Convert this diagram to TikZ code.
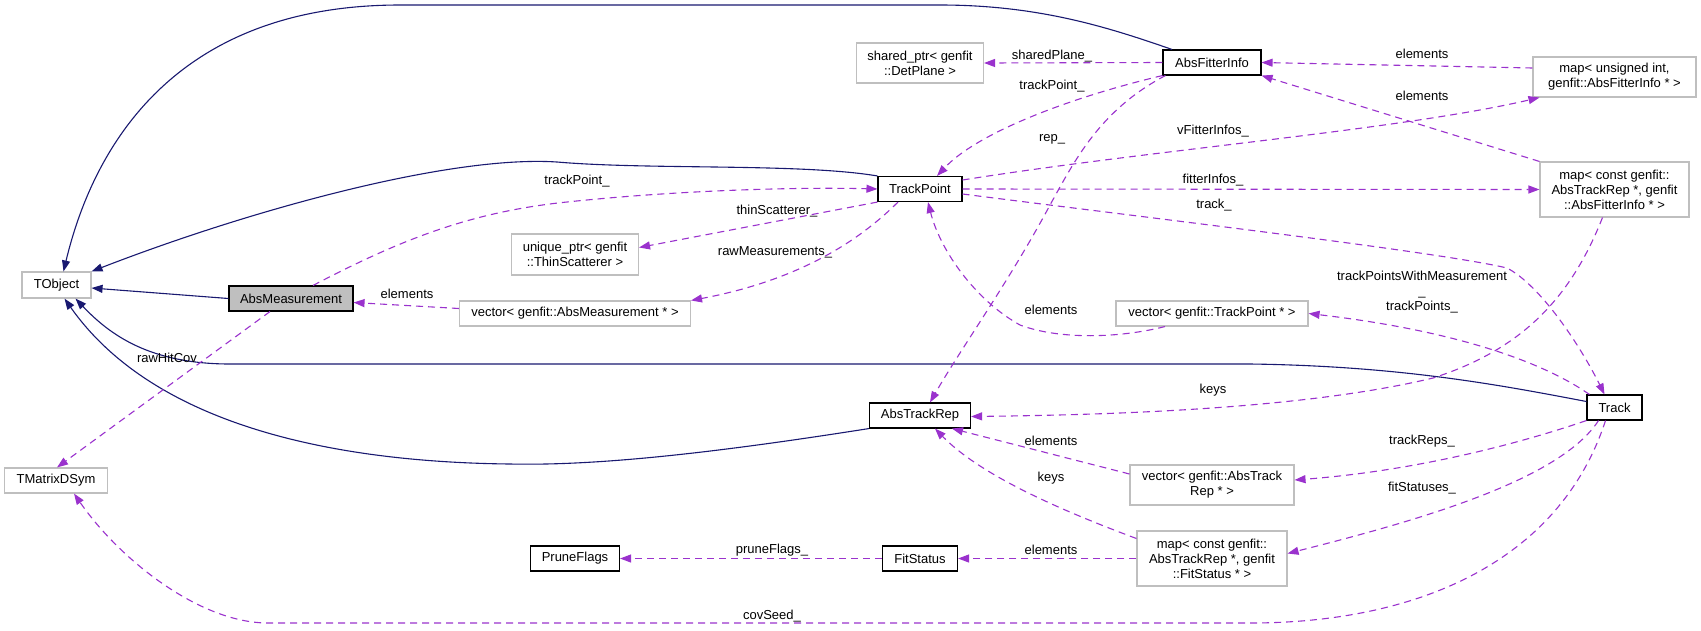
\documentclass[tikz,border=0pt]{standalone}
\usepackage{fontspec}
\setmainfont{Liberation Sans}
\usetikzlibrary{arrows.meta}
\definecolor{inhblue}{HTML}{191970}
\definecolor{usepurple}{HTML}{9A32CD}
\definecolor{boxgray}{HTML}{BFBFBF}

\begin{document}
\begin{tikzpicture}[
		x=1pt, y=-1pt,
		every node/.style={font=\fontsize{13}{15}\selectfont, align=center, inner sep=0pt},
		cls/.style={draw=black, line width=1.1pt, minimum height=25pt},
		ext/.style={draw=boxgray, line width=1.1pt, minimum height=25pt},
		inherit/.style={draw=inhblue, line width=1.1pt, -{Triangle[length=11pt,width=8pt]}},
		member/.style={draw=usepurple, line width=1.1pt, dash pattern=on 7pt off 5pt, -{Triangle[length=11pt,width=8pt]}}
		]
		\useasboundingbox (0,0) rectangle (1701,630);
		
		\node[ext, minimum width=69pt, minimum height=26pt] (tobject) at (56.5,285) {TObject};
		\node[cls, fill=boxgray, minimum width=124pt] (absmeas) at (291,298.5) {AbsMeasurement};
		\node[ext, minimum width=103pt] (tmatrix) at (56,480.5) {TMatrixDSym};
		\node[cls, minimum width=89pt] (prune) at (575,558.5) {PruneFlags};
		\node[ext, minimum width=127pt, minimum height=41pt] (thinscat) at (575,254.5) {unique\_ptr< genfit\\::ThinScatterer >};
		\node[ext, minimum width=231pt] (vecmeas) at (575,313.5) {vector< genfit::AbsMeasurement * >};
		\node[ext, minimum width=127pt, minimum height=40pt] (detplane) at (920,63) {shared\_ptr< genfit\\::DetPlane >};
		\node[cls, minimum width=84pt] (trackpoint) at (920,189) {TrackPoint};
		\node[cls, minimum width=101pt] (absrep) at (920,415.5) {AbsTrackRep};
		\node[cls, minimum width=75pt] (fitstatus) at (920,558.5) {FitStatus};
		\node[cls, minimum width=98pt] (absfit) at (1212,62.5) {AbsFitterInfo};
		\node[ext, minimum width=192pt] (vectp) at (1212,313.5) {vector< genfit::TrackPoint * >};
		\node[ext, minimum width=164pt, minimum height=40pt] (vecrep) at (1212,485) {vector< genfit::AbsTrack\\Rep * >};
		\node[ext, minimum width=150pt, minimum height=55pt] (mapfs) at (1212,558.5) {map< const genfit::\\AbsTrackRep *, genfit\\::FitStatus * >};
		\node[ext, minimum width=163pt, minimum height=40pt] (mapui) at (1614.5,77) {map< unsigned int,\\ genfit::AbsFitterInfo * >};
		\node[ext, minimum width=149pt, minimum height=55pt] (mapfi) at (1614.5,189.5) {map< const genfit::\\AbsTrackRep *, genfit\\::AbsFitterInfo * >};
		\node[cls, minimum width=55pt] (track) at (1614.5,407.5) {Track};
		
		% inheritance
		\draw[inherit] (absmeas.west) -- ([yshift=-3pt]tobject.east);
		\draw[inherit] (trackpoint.north west) .. controls (800,163) and (650,170) .. (557,162) .. controls (450,155) and (250,210) .. (tobject.north east);
		\draw[inherit] ([xshift=-40pt]absfit.north) .. controls (1110,28) and (1040,5) .. (940,5) -- (400,5) .. controls (180,5) and (95,140) .. ([xshift=7pt]tobject.north);
		\draw[inherit] ([yshift=6pt]track.west) .. controls (1500,385) and (1400,366) .. (1250,364) -- (230,364) .. controls (150,364) and (110,335) .. ([xshift=19pt]tobject.south);
		\draw[inherit] (absrep.south west) .. controls (720,452) and (600,466) .. (510,464) .. controls (320,462) and (150,420) .. ([xshift=8pt]tobject.south);
		
		% members
		\draw[member] ([xshift=-21pt]absmeas.south) -- ([xshift=1pt]tmatrix.north);
		\draw[member] ([xshift=22pt]absmeas.north) .. controls (400,240) and (470,212) .. (567,202) .. controls (680,190) and (800,187) .. (trackpoint.west);
		\draw[member] ([yshift=5pt]vecmeas.west) -- ([yshift=-4pt]absmeas.east);
		\draw[member] (trackpoint.south west) -- ([yshift=7pt]thinscat.east);
		\draw[member] ([xshift=-22pt]trackpoint.south) .. controls (860,240) and (800,280) .. (vecmeas.north east);
		\draw[member] (absfit.west) -- (detplane.east);
		\draw[member] (absfit.south west) .. controls (1080,95) and (980,130) .. ([xshift=17pt]trackpoint.north);
		\draw[member] ([xshift=3pt]absfit.south west) .. controls (1100,110) and (1075,160) .. (1050,205) .. controls (1010,280) and (960,350) .. ([xshift=10pt]absrep.north);
		\draw[member] ([yshift=9pt]mapui.west) -- (absfit.east);
		\draw[member] (mapfi.north west) -- (absfit.south east);
		\draw[member] ([yshift=9pt]trackpoint.east) .. controls (1150,150) and (1400,130) .. ([xshift=7pt]mapui.south west);
		\draw[member] (trackpoint.east) -- (mapfi.west);
		\draw[member] ([yshift=-5pt]trackpoint.east) .. controls (1150,218) and (1440,252) .. (1507,268) .. controls (1540,285) and (1580,345) .. ([xshift=-10pt]track.north);
		\draw[member] ([xshift=3pt]track.north west) .. controls (1540,360) and (1450,330) .. (vectp.east);
		\draw[member] ([xshift=-47pt]vectp.south) .. controls (1120,338) and (1060,340) .. (1020,325) .. controls (975,300) and (940,250) .. ([xshift=8pt]trackpoint.south);
		\draw[member] (track.south west) .. controls (1500,450) and (1400,472) .. ([yshift=5pt]vecrep.east);
		\draw[member] ([xshift=-16pt]track.south) .. controls (1560,480) and (1420,520) .. ([yshift=5pt]mapfs.east);
		\draw[member] ([xshift=-9pt]track.south) .. controls (1560,560) and (1420,623) .. (1250,623) -- (268,623) .. controls (200,623) and (120,560) .. ([xshift=18pt]tmatrix.south);
		\draw[member] ([xshift=-12pt]mapfi.south) .. controls (1570,300) and (1520,350) .. (1433,378) .. controls (1300,410) and (1100,415) .. ([yshift=-1pt]absrep.east);
		\draw[member] ([yshift=11pt]vecrep.west) -- ([xshift=32pt]absrep.south);
		\draw[member] ([yshift=20pt]mapfs.west) .. controls (1060,510) and (980,475) .. ([xshift=15pt]absrep.south);
		\draw[member] (mapfs.west) -- (fitstatus.east);
		\draw[member] (fitstatus.west) -- (prune.east);
		
		% labels
		\node (lrawhit) at (167,358) {rawHitCov};
		\node (ltpa) at (577,181) {trackPoint\_};
		\node (lelmeas) at (407,294) {elements};
		\node (lthin) at (777,211) {thinScatterer\_};
		\node (lrawmeas) at (775,252) {rawMeasurements\_};
		\node (lshared) at (1052,56) {sharedPlane\_};
		\node (ltpb) at (1052,86) {trackPoint\_};
		\node (lrep) at (1052,139) {rep\_};
		\node (lvfit) at (1213,131) {vFitterInfos\_};
		\node (lfit) at (1213,180) {fitterInfos\_};
		\node (ltrack) at (1214,205) {track\_};
		\node (lelui) at (1422,54) {elements};
		\node (lelfi) at (1422,96) {elements};
		\node (ltps) at (1422,292) {trackPointsWithMeasurement\\\_\\trackPoints\_};
		\node (leltp) at (1051,310) {elements};
		\node (lkeysa) at (1213,390) {keys};
		\node (lelrep) at (1051,441) {elements};
		\node (lkeysb) at (1051,478) {keys};
		\node (lelfs) at (1051,550) {elements};
		\node (lprune) at (772,550) {pruneFlags\_};
		\node (lreps) at (1422,441) {trackReps\_};
		\node (lstat) at (1422,488) {fitStatuses\_};
		\node (lcov) at (772,616) {covSeed\_};
		
	\end{tikzpicture}
\end{document}
